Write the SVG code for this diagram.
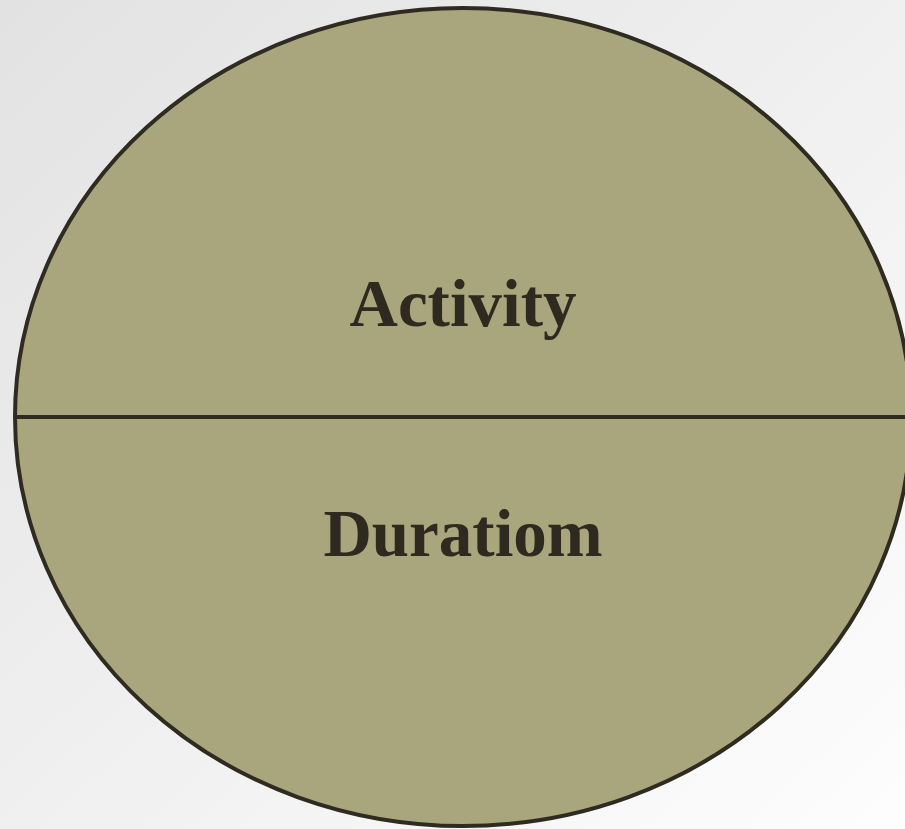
<svg xmlns="http://www.w3.org/2000/svg" width="905" height="829" viewBox="0 0 905 829">
  <defs>
    <linearGradient id="bg" x1="0" y1="0" x2="1" y2="1">
      <stop offset="0" stop-color="#e2e2e2"/>
      <stop offset="1" stop-color="#fdfdfd"/>
    </linearGradient>
    <clipPath id="oval">
      <ellipse cx="463" cy="417" rx="448" ry="409"/>
    </clipPath>
  </defs>
  <style>
    .shape { fill: #a9a57c; stroke: #2f2b20; stroke-width: 4; }
    .rule { stroke: #2f2b20; stroke-width: 4; }
    .label { font-family: "Liberation Serif", "DejaVu Serif", serif; font-weight: bold; font-size: 67px; fill: #2e2a1f; text-anchor: middle; }
  </style>
  <rect width="905" height="829" fill="url(#bg)"/>
  <g id="node-activity-duration">
    <ellipse class="shape" cx="463" cy="417" rx="448" ry="409"/>
    <line class="rule" x1="15" y1="417" x2="911" y2="417" clip-path="url(#oval)"/>
    <text class="label" x="463" y="326">Activity</text>
    <text class="label" x="463" y="556">Duratiom</text>
  </g>
  <g id="connectors"/>
</svg>
